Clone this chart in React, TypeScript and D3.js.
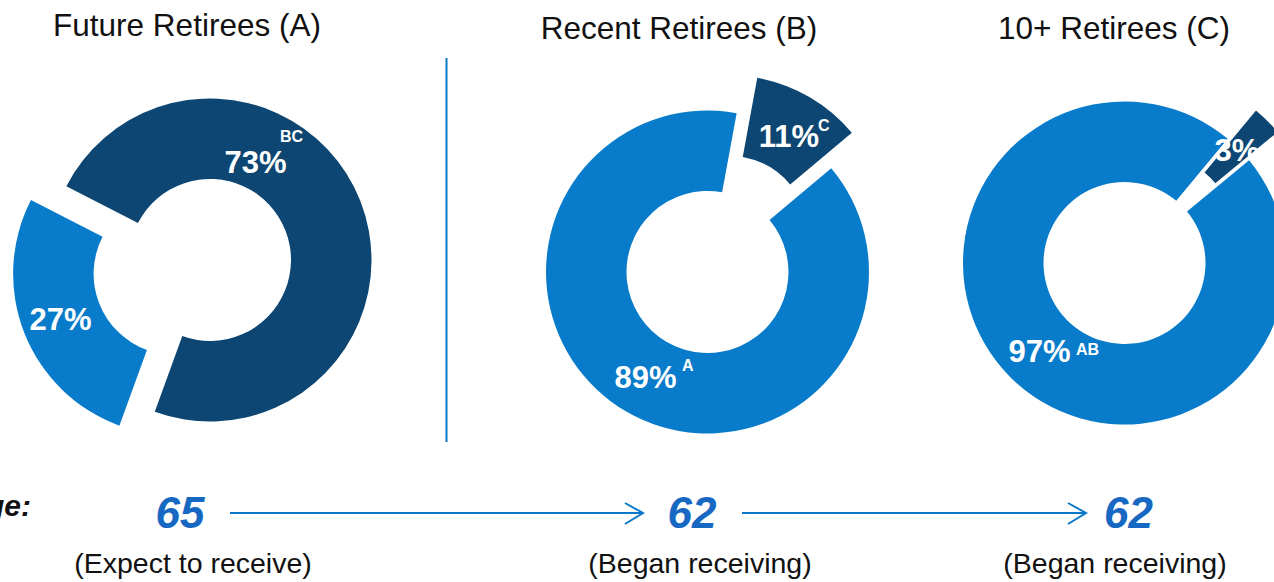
import React from "react";
import * as d3 from "d3";

// ---- Data ----
const groups = ["Future Retirees (A)", "Recent Retirees (B)", "10+ Retirees (C)"];
const lightValues = [27, 89, 97];
const darkValues = [73, 11, 3];
const lightSig = ["", "A", "AB"];
const darkSig = ["BC", "C", ""];
const ages = [65, 62, 62];
const ageNotes = ["(Expect to receive)", "(Began receiving)", "(Began receiving)"];
const ageRowLabel = "Median Age:";

// ---- Layout / style ----
const W = 1274, H = 582;
const LIGHT = "#087bca";
const DARK = "#0d4672";
const LINE = "#0a78c8";
const AGE_BLUE = "#1668c2";
const FONT = "'Liberation Sans', Arial, Helvetica, sans-serif";
const R_OUT = 161.5, R_IN = 81;

const pies = [
  { cx: 210, cy: 260, startDeg: 200, explode: "light", dist: 38,
    titleX: 187, titleY: 36,
    lightLbl: { x: 60.5, y: 330, sx: 0, sy: 0 },
    darkLbl: { x: 255.5, y: 173, sx: 280, sy: 142 } },
  { cx: 707.5, cy: 272, startDeg: 50, explode: "dark", dist: 41,
    titleX: 679, titleY: 39,
    lightLbl: { x: 645.5, y: 388, sx: 682, sy: 371 },
    darkLbl: { x: 789, y: 147, sx: 818, sy: 131 } },
  { cx: 1124.5, cy: 263, startDeg: 50.5, explode: "dark", dist: 40,
    titleX: 1114, titleY: 39,
    lightLbl: { x: 1039.5, y: 362, sx: 1076, sy: 355 },
    darkLbl: { x: 1237, y: 161, sx: 0, sy: 0 } },
];

const ageX = [180, 692, 1128.5];
const noteX = [193, 700, 1115];
const arrows = [ { x1: 230, x2: 643 }, { x1: 742, x2: 1086 } ];
const arrowY = 513;

const arcGen = d3.arc<any>().innerRadius(R_IN).outerRadius(R_OUT);

export default function App() {
  return (
    <svg width={W} height={H} viewBox={`0 0 ${W} ${H}`}
      style={{ position: "absolute", left: 0, top: 0, background: "#fff" }}
      fontFamily={FONT}>
      {/* divider */}
      <line x1={446.5} x2={446.5} y1={58} y2={442} stroke={LINE} strokeWidth={2} />

      {pies.map((p, i) => {
        const start = (p.startDeg * Math.PI) / 180;
        const pieGen = d3.pie<number>().sort(null).value((d) => d)
          .startAngle(start).endAngle(start + 2 * Math.PI);
        const arcs = pieGen([lightValues[i], darkValues[i]]);
        const fmt = (v: number) => `${v}%`;
        return (
          <g key={i}>
            <text x={p.titleX} y={p.titleY} textAnchor="middle" fontSize={31.5} fill="#111">
              {groups[i]}
            </text>
            {arcs.map((a, j) => {
              const kind = j === 0 ? "light" : "dark";
              const mid = (a.startAngle + a.endAngle) / 2;
              const off = kind === p.explode ? p.dist : 0;
              const dx = off * Math.sin(mid);
              const dy = -off * Math.cos(mid);
              return (
                <path key={j} d={arcGen(a) as string}
                  transform={`translate(${p.cx + dx},${p.cy + dy})`}
                  fill={kind === "light" ? LIGHT : DARK} />
              );
            })}
            {/* labels */}
            <text x={p.lightLbl.x} y={p.lightLbl.y} textAnchor="middle" fontSize={31}
              fontWeight="bold" fill="#fff">{fmt(lightValues[i])}</text>
            {lightSig[i] && (
              <text x={p.lightLbl.sx} y={p.lightLbl.sy} fontSize={16} fontWeight="bold" fill="#fff">
                {lightSig[i]}
              </text>
            )}
            <text x={p.darkLbl.x} y={p.darkLbl.y} textAnchor="middle" fontSize={31}
              fontWeight="bold" fill="#fff">{fmt(darkValues[i])}</text>
            {darkSig[i] && (
              <text x={p.darkLbl.sx} y={p.darkLbl.sy} fontSize={16} fontWeight="bold" fill="#fff">
                {darkSig[i]}
              </text>
            )}
          </g>
        );
      })}

      {/* age row */}
      <text x={31} y={516} textAnchor="end" fontSize={30} fontWeight="bold" fontStyle="italic" fill="#111">
        {ageRowLabel}
      </text>
      {ages.map((a, i) => (
        <g key={i}>
          <text x={ageX[i]} y={528} textAnchor="middle" fontSize={44} fontWeight="bold"
            fontStyle="italic" fill={AGE_BLUE}>{a}</text>
          <text x={noteX[i]} y={573} textAnchor="middle" fontSize={28.5} fill="#111">
            {ageNotes[i]}
          </text>
        </g>
      ))}
      {arrows.map((ar, i) => (
        <g key={i} stroke={LINE} strokeWidth={2} fill="none">
          <line x1={ar.x1} x2={ar.x2} y1={arrowY} y2={arrowY} />
          <polyline points={`${ar.x2 - 18},${arrowY - 10} ${ar.x2},${arrowY} ${ar.x2 - 18},${arrowY + 11}`} />
        </g>
      ))}
    </svg>
  );
}
